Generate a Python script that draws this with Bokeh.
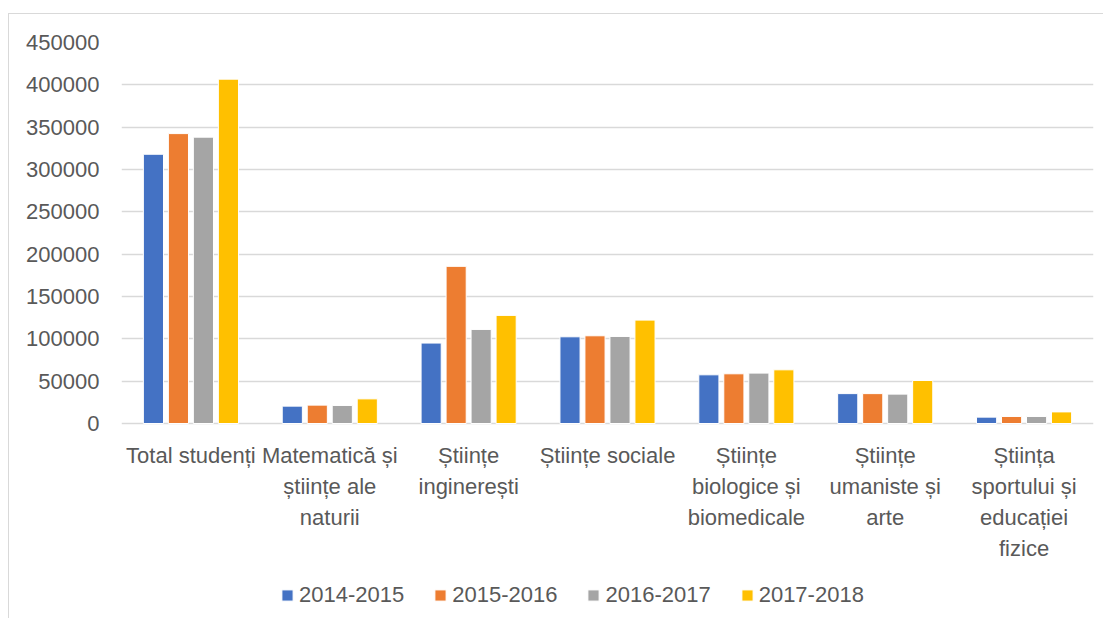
from bokeh.plotting import figure
from bokeh.models import (ColumnDataSource, FixedTicker, BasicTickFormatter, Legend,
                          LegendItem, Range1d)
from bokeh.core.properties import value
from bokeh.embed import file_html
from bokeh.resources import INLINE

categories = [
    "Total studenți",
    "Matematică și\nștiințe ale\nnaturii",
    "Științe\ninginerești",
    "Științe sociale",
    "Științe\nbiologice și\nbiomedicale",
    "Științe\numaniste și\narte",
    "Știința\nsportului și\neducației\nfizice",
]
years = ["2014-2015", "2015-2016", "2016-2017", "2017-2018"]
v2014 = [318000, 20500, 95000, 102400, 57500, 35300, 7500]
v2015 = [342400, 21700, 185600, 103600, 58700, 35300, 8300]
v2016 = [338200, 21300, 111100, 102800, 59500, 34700, 8300]
v2017 = [406700, 29100, 127700, 122100, 63400, 50800, 13700]
colors = ["#4472C4", "#ED7D31", "#A5A5A5", "#FFC000"]
y_ticks = [0, 50000, 100000, 150000, 200000, 250000, 300000, 350000, 400000, 450000]

series = [v2014, v2015, v2016, v2017]
n = len(categories)
FONT = "Liberation Sans"
TXT = "#595959"

# plotting area: 381 px for the value axis, extra room below for labels and legend
Y_MAX = y_ticks[-1]
VALUE_PX = 381
FRAME_PX = 576
y_start = -Y_MAX * (FRAME_PX - VALUE_PX) / VALUE_PX

p = figure(frame_width=972, frame_height=FRAME_PX, output_backend="svg",
           toolbar_location=None,
           x_range=Range1d(0, n), y_range=Range1d(y_start, Y_MAX),
           min_border_left=112, min_border_right=10, min_border_top=28,
           min_border_bottom=0)
p.outline_line_color = None
p.background_fill_color = "white"
p.border_fill_color = "white"

step = 0.18
width = 0.145
renderers = []
for k, (vals, col) in enumerate(zip(series, colors)):
    xs = [i + 0.5 + (k - 1.5) * step for i in range(n)]
    src = ColumnDataSource(dict(x=xs, top=vals))
    r = p.vbar(x="x", top="top", width=width, bottom=0, source=src,
               fill_color=col, line_color="white", line_width=1)
    renderers.append(r)

# category labels under the zero line
lab_src = ColumnDataSource(dict(x=[i + 0.5 for i in range(n)], y=[0] * n, text=categories))
p.text(x="x", y="y", text="text", source=lab_src, y_offset=19,
       text_align="center", text_baseline="top",
       text_font=value(FONT), text_font_size=value("22px"), text_color=TXT,
       text_line_height=1.24)

p.xaxis.visible = False

p.yaxis.ticker = FixedTicker(ticks=y_ticks)
p.yaxis.formatter = BasicTickFormatter(use_scientific=False)
p.yaxis.major_tick_line_color = None
p.yaxis.minor_tick_line_color = None
p.yaxis.axis_line_color = None
p.yaxis.major_label_text_font = FONT
p.yaxis.major_label_text_font_size = "22px"
p.yaxis.major_label_text_color = TXT
p.yaxis.major_label_standoff = 16

p.xgrid.grid_line_color = None
p.ygrid.ticker = FixedTicker(ticks=y_ticks)
p.ygrid.grid_line_color = "#d9d9d9"
p.ygrid.grid_line_width = 1.5

legend = Legend(items=[LegendItem(label=y, renderers=[r]) for y, r in zip(years, renderers)],
                orientation="horizontal", location=(159, 10))
legend.label_text_font = FONT
legend.label_text_font_size = "22px"
legend.label_text_color = TXT
legend.glyph_width = 14
legend.glyph_height = 14
legend.label_standoff = 5
legend.spacing = 29
legend.border_line_color = None
legend.background_fill_alpha = 0
legend.padding = 0
legend.margin = 0
p.add_layout(legend, "center")

p.styles = {"border-left": "1px solid #d9d9d9", "border-top": "1px solid #d9d9d9",
            "margin-top": "13px", "margin-left": "8px"}

open("out.html", "w").write(file_html(p, INLINE))
